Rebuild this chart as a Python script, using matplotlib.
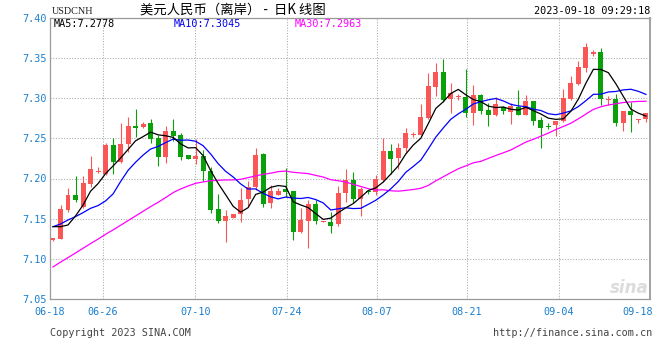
import numpy as np
import pandas as pd
import matplotlib
matplotlib.use("Agg")
import matplotlib.pyplot as plt

# ---------------- data ----------------
opens = [7.1236, 7.1248, 7.1609, 7.1795, 7.1650, 7.1932, 7.2081, 7.2056, 7.2417, 7.2210,
         7.2425, 7.2653, 7.2645, 7.2695, 7.2500, 7.2264, 7.2591, 7.2541, 7.2293, 7.2239,
         7.2284, 7.2098, 7.1621, 7.1472, 7.1513, 7.1555, 7.1745, 7.1899, 7.2305, 7.1700,
         7.1795, 7.1870, 7.1845, 7.1339, 7.1476, 7.1683, 7.1464, 7.1464, 7.1434, 7.1816,
         7.1982, 7.1745, 7.1849, 7.1828, 7.1982, 7.2342, 7.2251, 7.2376, 7.2541, 7.2541,
         7.2749, 7.3143, 7.3329, 7.2985, 7.3010, 7.3010, 7.2819, 7.3039, 7.2852, 7.2790,
         7.2886, 7.2832, 7.2894, 7.2790, 7.2964, 7.2728, 7.2653, 7.2666, 7.2716, 7.2989,
         7.3176, 7.3379, 7.3545, 7.3578, 7.2977, 7.2989, 7.2687, 7.2844, 7.2732, 7.2736]
highs = [7.1256, 7.1671, 7.1878, 7.2032, 7.2032, 7.2280, 7.2148, 7.2446, 7.2500, 7.2695,
         7.2769, 7.2861, 7.2707, 7.2736, 7.2541, 7.2653, 7.2740, 7.2562, 7.2293, 7.2492,
         7.2355, 7.2148, 7.1808, 7.1609, 7.1559, 7.1878, 7.1969, 7.2376, 7.2313, 7.1920,
         7.1878, 7.2127, 7.1845, 7.1629, 7.1733, 7.1733, 7.1476, 7.1580, 7.1911, 7.2119,
         7.2077, 7.1899, 7.1857, 7.2044, 7.2508, 7.2430, 7.2438, 7.2633, 7.2583, 7.2927,
         7.3317, 7.3433, 7.3487, 7.3192, 7.3051, 7.3362, 7.3163, 7.3051, 7.2935, 7.3010,
         7.2902, 7.2935, 7.3101, 7.3039, 7.2964, 7.2769, 7.2687, 7.2716, 7.3114, 7.3275,
         7.3466, 7.3690, 7.3599, 7.3619, 7.3027, 7.3056, 7.2844, 7.2956, 7.2740, 7.2811]
lows = [7.1227, 7.1248, 7.1588, 7.1712, 7.1629, 7.1899, 7.2073, 7.2044, 7.2056, 7.2197,
        7.2334, 7.2512, 7.2624, 7.2438, 7.2160, 7.2197, 7.2471, 7.2231, 7.2239, 7.2181,
        7.1973, 7.1575, 7.1451, 7.1215, 7.1513, 7.1464, 7.1663, 7.1857, 7.1650, 7.1629,
        7.1795, 7.1774, 7.1236, 7.1318, 7.1140, 7.1430, 7.1464, 7.1318, 7.1414, 7.1712,
        7.1692, 7.1538, 7.1807, 7.1795, 7.1961, 7.2056, 7.2114, 7.2322, 7.2521, 7.2541,
        7.2736, 7.3027, 7.2956, 7.2811, 7.2977, 7.2769, 7.2666, 7.2803, 7.2653, 7.2778,
        7.2803, 7.2678, 7.2790, 7.2790, 7.2666, 7.2376, 7.2616, 7.2529, 7.2707, 7.2977,
        7.3163, 7.3329, 7.3528, 7.2915, 7.2915, 7.2653, 7.2595, 7.2583, 7.2695, 7.2707]
closes = [7.1256, 7.1621, 7.1795, 7.1733, 7.1940, 7.2119, 7.2094, 7.2417, 7.2210, 7.2430,
          7.2653, 7.2633, 7.2678, 7.2488, 7.2264, 7.2595, 7.2533, 7.2272, 7.2239, 7.2280,
          7.2098, 7.1609, 7.1472, 7.1534, 7.1559, 7.1733, 7.1891, 7.2293, 7.1683, 7.1849,
          7.1845, 7.1837, 7.1339, 7.1484, 7.1683, 7.1476, 7.1476, 7.1414, 7.1824, 7.1982,
          7.1745, 7.1870, 7.1828, 7.1994, 7.2342, 7.2239, 7.2384, 7.2562, 7.2554, 7.2761,
          7.3151, 7.3329, 7.2977, 7.3068, 7.3018, 7.2811, 7.3039, 7.2844, 7.2790, 7.2927,
          7.2844, 7.2902, 7.2790, 7.2964, 7.2720, 7.2633, 7.2645, 7.2716, 7.2998, 7.3192,
          7.3391, 7.3632, 7.3578, 7.2985, 7.2993, 7.2695, 7.2844, 7.2790, 7.2740, 7.2811]

# moving-average values at the start of the window (history not visible)
ma5_head = [7.1401, 7.1401, 7.1422, 7.1534]
ma10_head = [7.1401, 7.1434, 7.1484, 7.1526, 7.1575, 7.1629, 7.1663, 7.1721, 7.1808]
ma30_head = [7.0900, 7.0960, 7.1016, 7.1074, 7.1132, 7.1190, 7.1246, 7.1306, 7.1360, 7.1418,
             7.1476, 7.1534, 7.1592, 7.1650, 7.1704, 7.1762, 7.1824, 7.1870, 7.1907, 7.1940,
             7.1957, 7.1973, 7.1978, 7.1982, 7.1982, 7.1990, 7.2011, 7.2032, 7.2052]

date_labels = ["06-18", "06-26", "07-10", "07-24", "08-07", "08-21", "09-04", "09-18"]
y_ticks = [7.05, 7.10, 7.15, 7.20, 7.25, 7.30, 7.35, 7.40]
ma_texts = ["MA5:7.2778", "MA10:7.3045", "MA30:7.2963"]

# ---------------- layout ----------------
W, H = 660, 360
tick_pos = [-0.4, 6.66, 18.97, 31.15, 43.19, 55.18, 67.41, 77.87]
grid_x = tick_pos[1:7]
BLUE_TXT = "#1a7fcf"
RED = "#fa5656"
GREEN = "#0aa00a"
GRID = "#a8a8a8"
MONO = "DejaVu Sans Mono"

fig = plt.figure(figsize=(W / 100, H / 100), dpi=100)
fig.patch.set_facecolor("white")
ax = fig.add_axes([50 / W, (H - 299.1) / H, 600 / W, (299.1 - 17.7) / H])

o = np.array(opens); h = np.array(highs); l = np.array(lows); c = np.array(closes)
n = len(c)
x = np.arange(n)

s = pd.Series(c)
ma5 = s.rolling(5).mean().to_numpy()
ma10 = s.rolling(10).mean().to_numpy()
ma30 = s.rolling(30).mean().to_numpy()
ma5[:len(ma5_head)] = ma5_head
ma10[:len(ma10_head)] = ma10_head
ma30[:len(ma30_head)] = ma30_head

# grid
for yv in y_ticks[1:-1]:
    ax.axhline(yv, color=GRID, lw=0.75, ls=(0, (1, 1.6)), zorder=0)
for xv in grid_x:
    ax.axvline(xv, color=GRID, lw=0.75, ls=(0, (1, 1.6)), zorder=0)

# candles
up = c >= o
cols = [RED if u else GREEN for u in up]
ax.vlines(x, l, h, colors=cols, lw=0.8, zorder=2)
bottom = np.minimum(o, c)
height = np.maximum(np.abs(c - o), 0.0012)
ax.bar(x, height, bottom=bottom, width=0.66, color=cols, linewidth=0, zorder=3)

# moving averages
ax.plot(x, ma30, color="#ff00ff", lw=0.9, zorder=4)
ax.plot(x, ma10, color="#0000ff", lw=0.9, zorder=5)
ax.plot(x, ma5, color="black", lw=0.9, zorder=6)

ax.set_xlim(-0.4, 79.54)
ax.set_ylim(7.05, 7.40)
ax.set_yticks(y_ticks)
ax.set_yticklabels([f"{v:.2f}" for v in y_ticks])
ax.set_xticks(tick_pos)
ax.set_xticklabels(date_labels)
ax.tick_params(axis="both", length=0, labelsize=7.3, labelcolor=BLUE_TXT)
ax.tick_params(axis="y", pad=2.4)
ax.tick_params(axis="x", pad=5.5)
for t in ax.get_xticklabels() + ax.get_yticklabels():
    t.set_fontfamily(MONO)

for sp in ax.spines.values():
    sp.set_color("#9a9a9a")
    sp.set_linewidth(0.9)
ax.spines["right"].set_linewidth(1.3)

# watermark
ax.text(0.965, 0.04, "sina", transform=ax.transAxes, ha="center", va="center",
        fontsize=12, fontstyle="italic", fontweight="bold", color="#dcdcdc", zorder=1)

# header / footer texts (pixel coordinates)
def ftext(px, py, s, **kw):
    fig.text(px / W, 1 - py / H, s, va="center", **kw)

ftext(52, 11.5, "USDCNH", ha="left", fontsize=7.3, family="Liberation Serif", color="#222222")
ftext(140, 9.5, "美元人民币（离岸） -  日K 线图", ha="left", fontsize=9.6,
      family=["Noto Sans CJK SC", "DejaVu Sans"], color="black")
ftext(650, 11, "2023-09-18 09:29:18", ha="right", fontsize=7.3, family=MONO, color="black")
ftext(54, 24, ma_texts[0], ha="left", fontsize=7.3, family=MONO, color="black")
ftext(174, 24, ma_texts[1], ha="left", fontsize=7.3, family=MONO, color="#0000ee")
ftext(295, 24, ma_texts[2], ha="left", fontsize=7.3, family=MONO, color="#ff00ff")
ftext(50, 333, "Copyright 2023 SINA.COM", ha="left", fontsize=7.3, family=MONO, color="#444444")
ftext(652, 333, "http://finance.sina.com.cn", ha="right", fontsize=7.3, family=MONO, color="#444444")

fig.savefig("out.png", dpi=100, facecolor="white")
